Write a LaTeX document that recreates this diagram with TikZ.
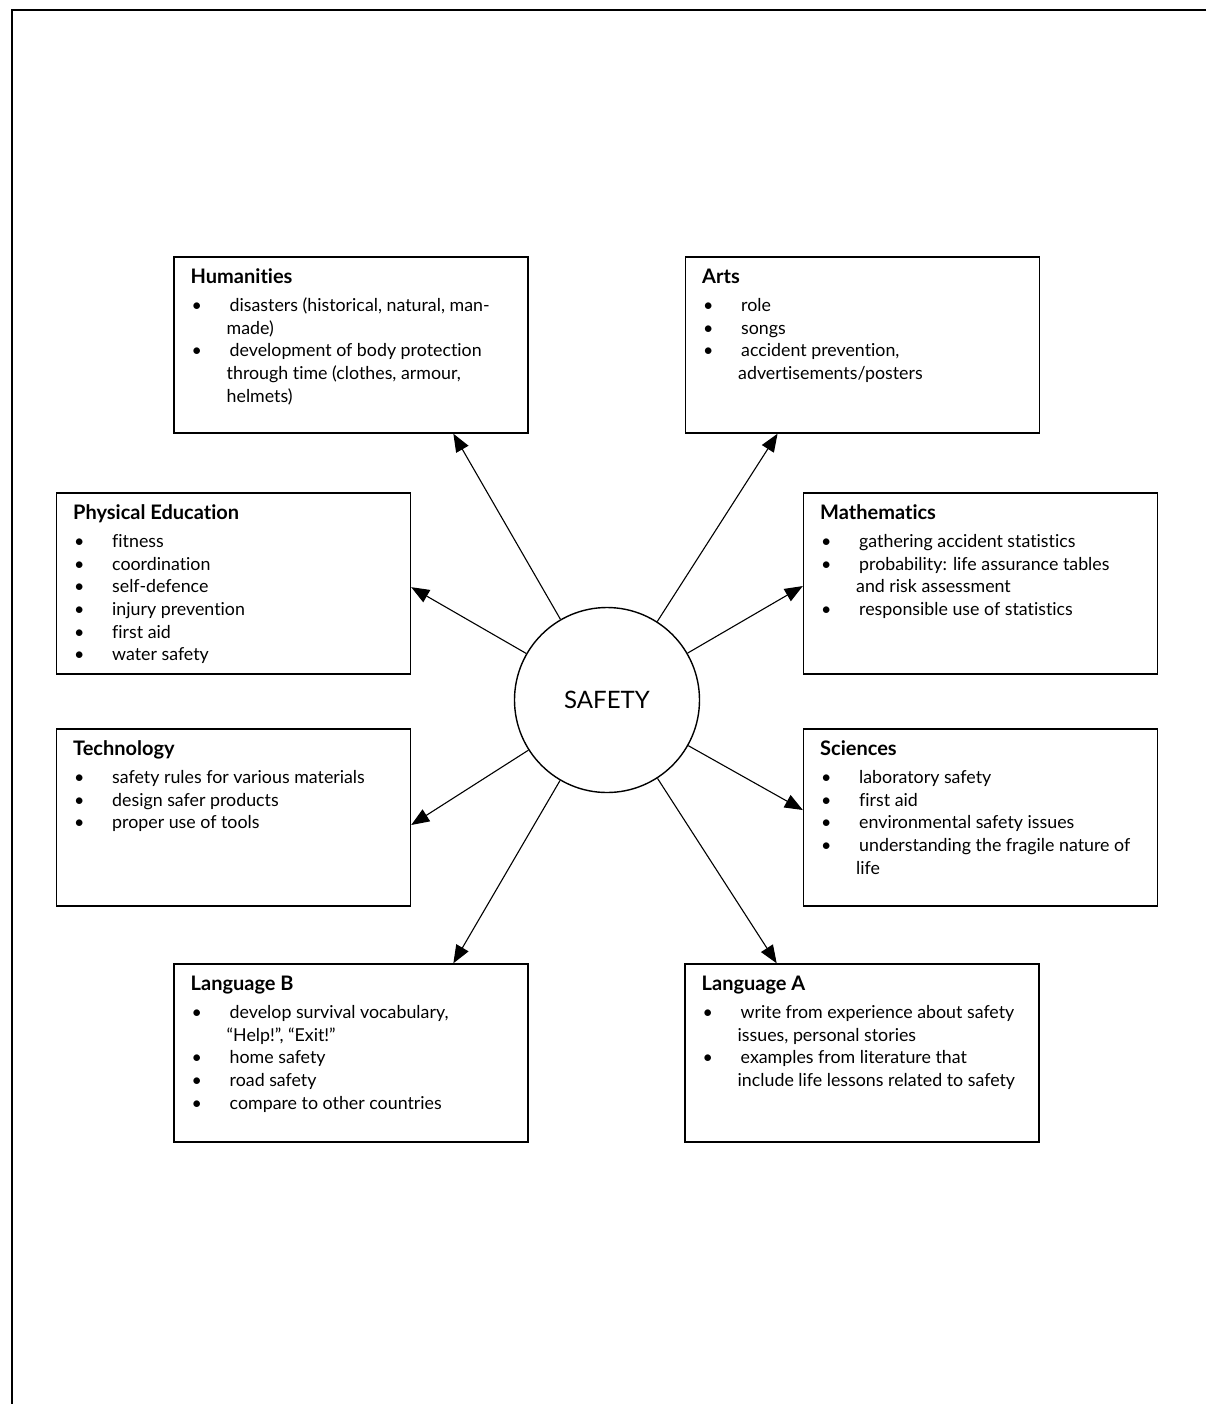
\documentclass[tikz,border=0pt]{standalone}
\usepackage{fontspec}
\setmainfont{Lato}[Ligatures={NoCommon}]
\usetikzlibrary{arrows.meta,calc}
\newcommand\bi[1]{\hbox{\makebox[19.5pt][l]{\hspace{0.5pt}\textbullet}#1}}
\newcommand\ci[1]{\hbox{\hspace{18pt}#1}}
\newcommand\btext[2]{\vtop{\baselineskip=11.35pt\hbox{\fontsize{10}{11.35}\selectfont\bfseries #1}\vskip2.65pt #2}}
\begin{document}
\begin{tikzpicture}[x=0.5pt,y=-0.5pt,
  box/.style={draw, line width=0.7pt, minimum width=177pt, inner sep=0pt},
  lbl/.style={anchor=base west, inner sep=0pt, font=\fontsize{8.9}{11.35}\selectfont},
  arr/.style={line width=0.55pt, -{Triangle[length=9pt,width=7pt]}}]
\useasboundingbox (0,0) rectangle (1206,1404);
\draw[line width=1pt] (1206,10) -- (12,10) -- (12,1404);

\node[draw, circle, line width=0.7pt, minimum size=92.5pt, inner sep=0pt, font=\fontsize{12}{14}\selectfont] (safety) at (607,700) {SAFETY};

\node[box, minimum height=88pt] (hum) at (351,345) {};
\node[box, minimum height=88pt] (arts) at (862.5,345) {};
\node[box, minimum height=90.5pt] (pe) at (233.5,583.5) {};
\node[box, minimum height=90.5pt] (math) at (980.5,583.5) {};
\node[box, minimum height=88.5pt] (tech) at (233.5,817.5) {};
\node[box, minimum height=88.5pt] (sci) at (980.5,817.5) {};
\node[box, minimum height=89pt] (langb) at (351,1053) {};
\node[box, minimum height=89pt] (langa) at (862,1053) {};

\node[lbl] (humt) at ($(hum.north west)+(17,27)$) {\btext{Humanities}{%
  \bi{disasters (historical, natural, man-}\ci{made)}%
  \bi{development of body protection}\ci{through time (clothes, armour,}\ci{helmets)}}};
\node[lbl] (artst) at ($(arts.north west)+(17,27)$) {\btext{Arts}{%
  \bi{role}\bi{songs}\bi{accident prevention,}\ci{advertisements/posters}}};
\node[lbl] (pet) at ($(pe.north west)+(17,27)$) {\btext{Physical Education}{%
  \bi{fitness}\bi{coordination}\bi{self-defence}\bi{injury prevention}\bi{first aid}\bi{water safety}}};
\node[lbl] (matht) at ($(math.north west)+(17,27)$) {\btext{Mathematics}{%
  \bi{gathering accident statistics}\bi{probability: life assurance tables}\ci{and risk assessment}%
  \bi{responsible use of statistics}}};
\node[lbl] (techt) at ($(tech.north west)+(17,27)$) {\btext{Technology}{%
  \bi{safety rules for various materials}\bi{design safer products}\bi{proper use of tools}}};
\node[lbl] (scit) at ($(sci.north west)+(17,27)$) {\btext{Sciences}{%
  \bi{laboratory safety}\bi{first aid}\bi{environmental safety issues}%
  \bi{understanding the fragile nature of}\ci{life}}};
\node[lbl] (langbt) at ($(langb.north west)+(17,27)$) {\btext{Language B}{%
  \bi{develop survival vocabulary,}\ci{“Help!”, “Exit!”}\bi{home safety}\bi{road safety}%
  \bi{compare to other countries}}};
\node[lbl] (langat) at ($(langa.north west)+(17,27)$) {\btext{Language A}{%
  \bi{write from experience about safety}\ci{issues, personal stories}%
  \bi{examples from literature that}\ci{include life lessons related to safety}}};

\draw[arr] (safety) -- ($(hum.south west)!0.788!(hum.south east)$);
\draw[arr] (safety) -- ($(arts.south west)!0.261!(arts.south east)$);
\draw[arr] (safety) -- ($(pe.north east)!0.52!(pe.south east)$);
\draw[arr] (safety) -- ($(math.north west)!0.514!(math.south west)$);
\draw[arr] (safety) -- ($(tech.north east)!0.542!(tech.south east)$);
\draw[arr] (safety) -- ($(sci.north west)!0.458!(sci.south west)$);
\draw[arr] (safety) -- ($(langb.north west)!0.788!(langb.north east)$);
\draw[arr] (safety) -- ($(langa.north west)!0.26!(langa.north east)$);
\end{tikzpicture}
\end{document}
